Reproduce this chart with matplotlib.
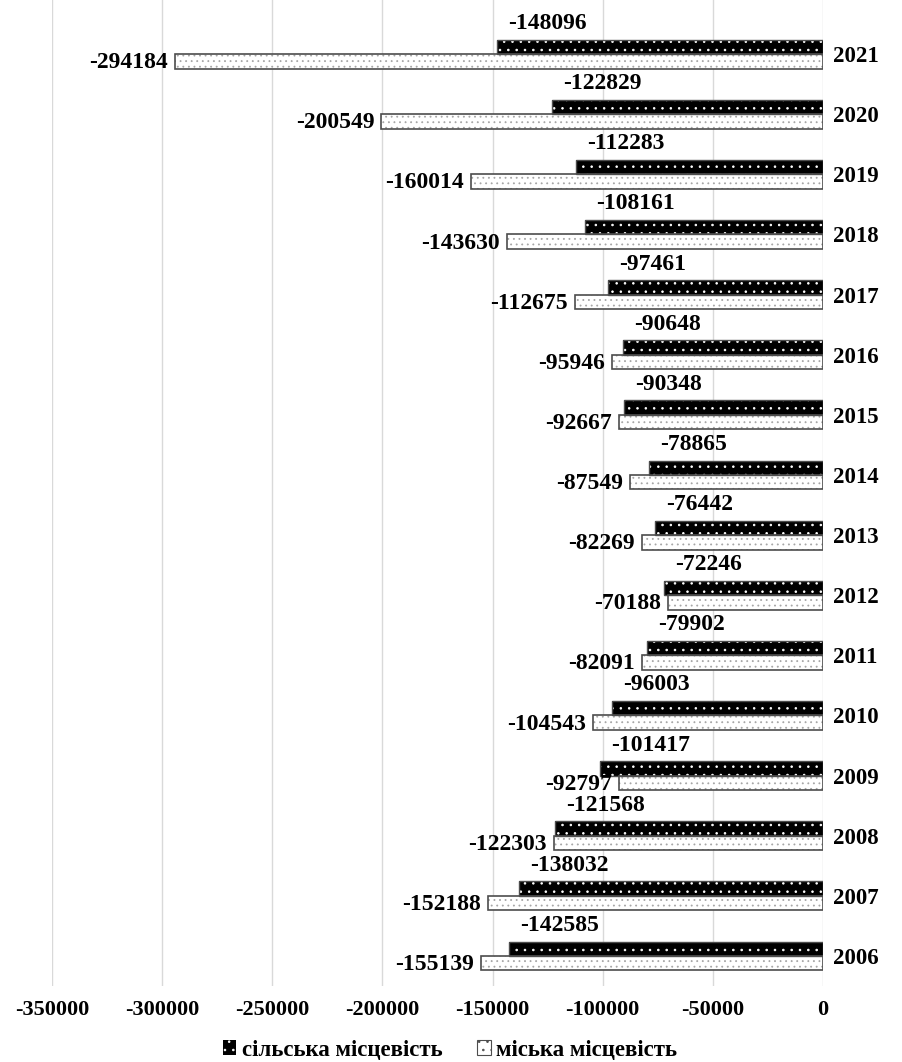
import matplotlib.pyplot as plt
from matplotlib.patches import Patch
import numpy as np

plt.rcParams["font.family"] = ["Liberation Serif", "DejaVu Serif"]
plt.rcParams["font.weight"] = "bold"
plt.rcParams["hatch.linewidth"] = 0.6

years = [2006, 2007, 2008, 2009, 2010, 2011, 2012, 2013,
         2014, 2015, 2016, 2017, 2018, 2019, 2020, 2021]
rural = [-142585, -138032, -121568, -101417, -96003, -79902, -72246, -76442,
         -78865, -90348, -90648, -97461, -108161, -112283, -122829, -148096]
urban = [-155139, -152188, -122303, -92797, -104543, -82091, -70188, -82269,
         -87549, -92667, -95946, -112675, -143630, -160014, -200549, -294184]
x_ticks = [-350000, -300000, -250000, -200000, -150000, -100000, -50000, 0]
series_names = ["сільська місцевість", "міська місцевість"]

fig = plt.figure(figsize=(9.03, 10.62), dpi=100)
ax = fig.add_axes([52 / 903, 1 - 986 / 1062, 771 / 903, 986 / 1062])

y = np.arange(len(years))
h = 0.24
edge = "#4d4d4d"
dots = "#a6a6a6"

# сільська: чорна з білими крапками
ax.barh(y + h / 2, rural, height=h, color="black", edgecolor="none", zorder=2)
ax.barh(y + h / 2, rural, height=h, color="none", edgecolor="white",
        hatch="..", linewidth=0, zorder=3)
ax.barh(y + h / 2, rural, height=h, color="none", edgecolor=edge,
        linewidth=1.0, zorder=4)

# міська: біла з сірими крапками
ax.barh(y - h / 2, urban, height=h, color="white", edgecolor="none", zorder=2)
ax.barh(y - h / 2, urban, height=h, color="none", edgecolor=dots,
        hatch="...", linewidth=0, zorder=3)
ax.barh(y - h / 2, urban, height=h, color="none", edgecolor=edge,
        linewidth=1.2, zorder=4)

for yi, v in zip(y, rural):
    ax.annotate(str(v), (v, yi + h), xytext=(8, 4), textcoords="offset points",
                ha="left", va="bottom", fontsize=17, fontweight="bold", zorder=5)
for yi, v in zip(y, urban):
    ax.annotate(str(v), (v, yi - h / 2), xytext=(-5, -1), textcoords="offset points",
                ha="right", va="center", fontsize=17, fontweight="bold", zorder=5)

ax.set_xlim(-350000, 0)
ax.set_ylim(-0.5, 15.9)
ax.set_xticks(x_ticks)
ax.set_xticklabels([str(t) for t in x_ticks], fontsize=16, fontweight="bold")
ax.set_yticks(y)
ax.set_yticklabels([str(v) for v in years], fontsize=16.5, fontweight="bold")
ax.yaxis.tick_right()
ax.tick_params(axis="both", length=0)
ax.tick_params(axis="y", pad=7)
ax.tick_params(axis="x", pad=10)
ax.xaxis.grid(True, color="#d9d9d9", linewidth=1.0, zorder=0)
ax.set_axisbelow(True)
for s in ax.spines.values():
    s.set_visible(False)

h_rural = Patch(facecolor="black", edgecolor="white", hatch="..", linewidth=0)
h_urban = Patch(facecolor="white", edgecolor=edge, hatch="..", linewidth=0.8)
fig.legend([h_rural, h_urban], series_names,
           loc="center", bbox_to_anchor=(450 / 903, 1 - 1050 / 1062), ncol=2,
           frameon=False, handlelength=0.6, handleheight=0.6, handletextpad=0.25,
           columnspacing=1.5, prop={"size": 16.5, "weight": "bold"})

fig.savefig("out.png", dpi=100)
